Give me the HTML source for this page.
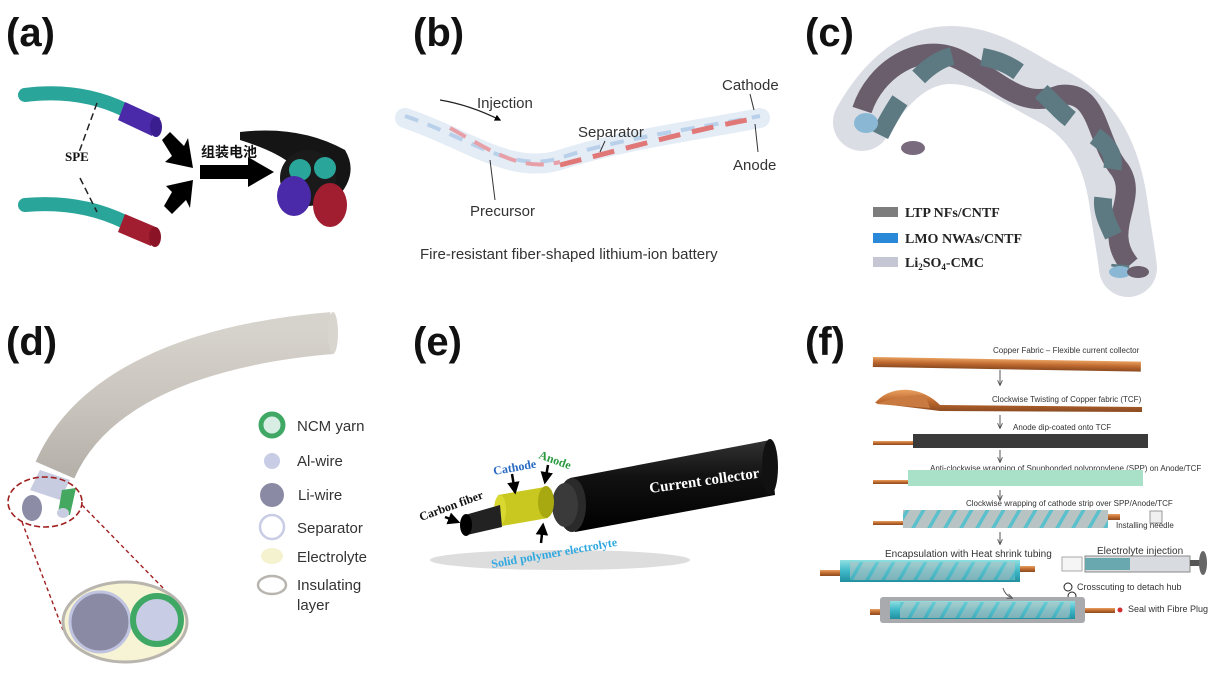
<!DOCTYPE html>
<html><head><meta charset="utf-8"><style>
html,body{margin:0;padding:0;background:#fff;}
svg{display:block;}
.lbl{font-family:"Liberation Sans",sans-serif;font-weight:bold;font-size:40px;fill:#111;}
.s{font-family:"Liberation Sans",sans-serif;fill:#333;}
.sr{font-family:"Liberation Serif",serif;font-weight:bold;}
</style></head><body>
<svg width="1212" height="689" viewBox="0 0 1212 689" xmlns="http://www.w3.org/2000/svg">
<defs>
<linearGradient id="gt" x1="0" y1="0" x2="0" y2="1"><stop offset="0" stop-color="#e8e5e0"/><stop offset=".5" stop-color="#cfcac3"/><stop offset="1" stop-color="#a9a49d"/></linearGradient>
<linearGradient id="blk" x1="0" y1="0" x2="0" y2="1"><stop offset="0" stop-color="#333"/><stop offset=".4" stop-color="#111"/><stop offset="1" stop-color="#000"/></linearGradient>
<linearGradient id="cu" x1="0" y1="0" x2="0" y2="1"><stop offset="0" stop-color="#e8a060"/><stop offset=".5" stop-color="#c06a30"/><stop offset="1" stop-color="#8a4a20"/></linearGradient>
<linearGradient id="cy" x1="0" y1="0" x2="0" y2="1"><stop offset="0" stop-color="#8fe0e0"/><stop offset=".5" stop-color="#3fb8c8"/><stop offset="1" stop-color="#2090a0"/></linearGradient>
<pattern id="sp" width="16" height="40" patternUnits="userSpaceOnUse" patternTransform="skewX(-30)"><rect width="16" height="40" fill="#b8c4c4"/><rect width="4" height="40" fill="#5ac0cc"/></pattern>
<marker id="ah" viewBox="0 0 10 10" refX="8" refY="5" markerWidth="5" markerHeight="5" orient="auto"><path d="M0,0L10,5L0,10z" fill="#000"/></marker>
<marker id="ga" viewBox="0 0 10 10" refX="8" refY="5" markerWidth="6" markerHeight="6" orient="auto"><path d="M0,1L9,5L0,9" fill="none" stroke="#555" stroke-width="1.5"/></marker>
</defs>

<!-- (a) -->
<text class="lbl" x="6" y="46">(a)</text>
<path d="M25,95 Q80,88 125,110" stroke="#2aa59a" stroke-width="14" fill="none" stroke-linecap="round"/>
<path d="M125,102 L160,118 L152,136 L118,120 Z" fill="#4a2aa8"/>
<ellipse cx="156" cy="127" rx="6" ry="10" fill="#3a1e90"/>
<path d="M25,205 Q80,200 125,222" stroke="#2aa59a" stroke-width="14" fill="none" stroke-linecap="round"/>
<path d="M125,214 L158,228 L151,246 L118,232 Z" fill="#a01e30"/>
<ellipse cx="155" cy="237" rx="6" ry="10" fill="#8a1426"/>
<path d="M97,103 L78,155 M80,178 L97,212" stroke="#222" stroke-width="1.5" stroke-dasharray="7,4"/>
<text x="65" y="161" class="sr" font-size="13" fill="#111">SPE</text>
<polygon points="162,140 170,132 184,146 188,138 193,168 165,162 172,156" fill="#000"/>
<polygon points="164,206 172,214 186,200 190,208 193,180 166,186 172,192" fill="#000"/>
<polygon points="200,165 248,165 248,157 274,172 248,187 248,179 200,179" fill="#000"/>
<text x="201" y="157" font-family="'Liberation Sans','Noto Sans CJK SC',sans-serif" font-size="14" font-weight="bold" fill="#111">组装电池</text>
<path d="M240,132 Q300,125 345,150 Q360,175 335,200 L300,200 Q320,165 240,140 Z" fill="#151515"/>
<circle cx="308" cy="178" r="28" fill="#1a1a1a"/>
<circle cx="300" cy="170" r="11" fill="#2aa59a"/><circle cx="325" cy="168" r="11" fill="#2aa59a"/>
<ellipse cx="294" cy="196" rx="17" ry="20" fill="#4a2aa8"/>
<ellipse cx="330" cy="205" rx="17" ry="22" fill="#a01e30"/>

<!-- (b) -->
<text class="lbl" x="413" y="46">(b)</text>
<path d="M405,118 C470,140 510,175 560,160 C620,140 700,130 760,118" stroke="#e4ecf6" stroke-width="20" fill="none" stroke-linecap="round"/>
<path d="M405,116 C470,138 510,173 560,158 C620,138 700,128 760,116" stroke="#b8d0ea" stroke-width="4" fill="none" stroke-dasharray="14,10"/>
<path d="M560,165 C620,150 700,128 758,118" stroke="#e07878" stroke-width="5" fill="none" stroke-dasharray="22,12"/>
<path d="M450,128 C490,150 520,172 560,162" stroke="#e8a0a8" stroke-width="4" fill="none" stroke-dasharray="18,10"/>
<path d="M440,100 Q470,105 500,120" stroke="#222" stroke-width="1.3" fill="none" marker-end="url(#ah)"/>
<text class="s" x="477" y="108" font-size="15">Injection</text>
<text class="s" x="578" y="137" font-size="15">Separator</text>
<line x1="605" y1="141" x2="600" y2="152" stroke="#333"/>
<text class="s" x="722" y="90" font-size="15">Cathode</text>
<line x1="750" y1="94" x2="754" y2="110" stroke="#333"/>
<text class="s" x="733" y="170" font-size="15">Anode</text>
<line x1="755" y1="124" x2="758" y2="152" stroke="#333"/>
<text class="s" x="470" y="216" font-size="15">Precursor</text>
<line x1="495" y1="200" x2="490" y2="160" stroke="#333"/>
<text class="s" x="420" y="259" font-size="15">Fire-resistant fiber-shaped lithium-ion battery</text>

<!-- (c) -->
<text class="lbl" x="805" y="46">(c)</text>
<path d="M862,122 C880,90 910,55 950,55 C990,55 1020,80 1050,95 C1090,115 1110,150 1118,200 C1122,230 1126,250 1128,268" stroke="#dadde4" stroke-width="58" fill="none" stroke-linecap="round"/>
<path d="M862,110 C875,70 920,40 960,60 C1000,80 1020,110 1060,95 C1100,90 1095,140 1120,170 C1140,200 1100,230 1130,265" stroke="#6a5e6c" stroke-width="20" fill="none"/>
<path d="M880,135 C900,95 930,50 970,55 C1010,60 1020,70 1060,110 C1090,140 1130,140 1105,190 C1095,220 1125,240 1120,268" stroke="#5d7a82" stroke-width="18" fill="none" stroke-dasharray="40,30"/>
<ellipse cx="866" cy="123" rx="12" ry="10" fill="#8ab8d4"/>
<ellipse cx="913" cy="148" rx="12" ry="7" fill="#7a6a7e"/>
<ellipse cx="1120" cy="272" rx="11" ry="6" fill="#8ab8d4"/>
<ellipse cx="1138" cy="272" rx="11" ry="6" fill="#6a5e6c"/>
<rect x="873" y="207" width="25" height="10" fill="#7d7d7d"/>
<rect x="873" y="233" width="25" height="10" fill="#2a88d8"/>
<rect x="873" y="257" width="25" height="10" fill="#c4c6d4"/>
<text class="sr" x="905" y="217" font-size="14" fill="#222">LTP NFs/CNTF</text>
<text class="sr" x="905" y="243" font-size="14" fill="#222">LMO NWAs/CNTF</text>
<text class="sr" x="905" y="267" font-size="14" fill="#222">Li<tspan font-size="9" dy="3">2</tspan><tspan dy="-3">SO</tspan><tspan font-size="9" dy="3">4</tspan><tspan dy="-3">-CMC</tspan></text>

<!-- (d) -->
<text class="lbl" x="6" y="355">(d)</text>
<path d="M55,470 C90,390 190,345 332,333" stroke="url(#gt)" stroke-width="42" fill="none"/>
<path d="M55,470 C90,390 190,345 332,333" stroke="#c4bfb8" stroke-width="42" fill="none" opacity=".5"/>
<ellipse cx="333" cy="333" rx="5" ry="21" fill="#d8d4ce"/>
<path d="M40,470 L70,480 L60,500 L30,490Z" fill="#c8cce0"/>
<ellipse cx="32" cy="508" rx="10" ry="13" fill="#8c8ca6"/>
<path d="M62,490 L76,488 L70,515 L58,513Z" fill="#44a860"/>
<ellipse cx="63" cy="513" rx="6" ry="5" fill="#c8cce0"/>
<ellipse cx="45" cy="502" rx="37" ry="25" fill="none" stroke="#a02020" stroke-width="1.6" stroke-dasharray="6,3"/>
<line x1="22" y1="522" x2="63" y2="630" stroke="#a02020" stroke-width="1.4" stroke-dasharray="4,3"/>
<line x1="82" y1="505" x2="165" y2="590" stroke="#a02020" stroke-width="1.4" stroke-dasharray="4,3"/>
<ellipse cx="125" cy="622" rx="62" ry="40" fill="#f7f3d5" stroke="#b8b4ae" stroke-width="3"/>
<circle cx="100" cy="622" r="30" fill="#8a8aa4" stroke="#c0c4e0" stroke-width="3"/>
<circle cx="157" cy="620" r="24" fill="#c8cce4" stroke="#3fa864" stroke-width="6"/>
<circle cx="272" cy="425" r="11" fill="#d8eee4" stroke="#3fa864" stroke-width="5"/>
<circle cx="272" cy="461" r="8" fill="#c8cce4"/>
<circle cx="272" cy="495" r="12" fill="#8a8aa4"/>
<circle cx="272" cy="527" r="12" fill="#fff" stroke="#c8cce4" stroke-width="2.5"/>
<ellipse cx="272" cy="556" rx="11" ry="8" fill="#f5f2d0"/>
<ellipse cx="272" cy="585" rx="14" ry="9" fill="#fff" stroke="#b8b4ae" stroke-width="2.5"/>
<g class="s" font-size="15" fill="#444">
<text x="297" y="431">NCM yarn</text><text x="297" y="466">Al-wire</text><text x="298" y="500">Li-wire</text>
<text x="297" y="533">Separator</text><text x="297" y="562">Electrolyte</text><text x="297" y="590">Insulating</text><text x="297" y="610">layer</text></g>

<!-- (e) -->
<text class="lbl" x="413" y="355">(e)</text>
<ellipse cx="560" cy="560" rx="130" ry="10" fill="#bbb" opacity=".5"/>
<path d="M570,478 L770,440 L775,495 L575,532 Z" fill="url(#blk)"/>
<ellipse cx="770" cy="467" rx="8" ry="28" fill="#111"/>
<ellipse cx="572" cy="505" rx="14" ry="27" fill="#2a2a2a"/>
<ellipse cx="565" cy="505" rx="13" ry="22" fill="#3a3a3a"/>
<path d="M498,495 L545,487 L548,518 L502,526Z" fill="#c8c820"/>
<ellipse cx="546" cy="502" rx="8" ry="16" fill="#a8a810"/>
<ellipse cx="500" cy="510" rx="6" ry="15" fill="#d8d830"/>
<path d="M465,515 L500,505 L502,527 L467,535Z" fill="#222"/>
<ellipse cx="466" cy="525" rx="6" ry="11" fill="#000"/>
<text x="650" y="493" class="sr" font-size="15" fill="#fff" transform="rotate(-8 650 493)">Current collector</text>
<text x="421" y="521" class="sr" font-size="12" fill="#111" transform="rotate(-20 421 521)">Carbon fiber</text>
<text x="494" y="475" class="sr" font-size="12" fill="#2a6ac0" transform="rotate(-10 494 475)">Cathode</text>
<text x="538" y="458" class="sr" font-size="12" fill="#2a9a40" transform="rotate(20 538 458)">Anode</text>
<text x="492" y="568" class="sr" font-size="12" fill="#30a8e0" transform="rotate(-10 492 568)">Solid polymer electrolyte</text>
<path d="M445,517 L458,522" stroke="#000" stroke-width="2.5" marker-end="url(#ah)"/>
<path d="M512,474 L515,492" stroke="#000" stroke-width="2.5" marker-end="url(#ah)"/>
<path d="M548,465 L545,482" stroke="#000" stroke-width="2.5" marker-end="url(#ah)"/>
<path d="M541,543 L543,525" stroke="#000" stroke-width="2.5" marker-end="url(#ah)"/>

<!-- (f) -->
<text class="lbl" x="805" y="355">(f)</text>
<g class="s" font-size="8" fill="#333">
<text x="993" y="353">Copper Fabric – Flexible current collector</text>
<text x="992" y="402">Clockwise Twisting of Copper fabric (TCF)</text>
<text x="1013" y="430">Anode dip-coated onto TCF</text>
<text x="930" y="471">Anti-clockwise wrapping of Spunbonded polypropylene (SPP) on Anode/TCF</text>
<text x="966" y="506">Clockwise wrapping of cathode strip over SPP/Anode/TCF</text>
<text x="1116" y="528">Installing needle</text>
<text x="885" y="557" font-size="10">Encapsulation with Heat shrink tubing</text>
<text x="1097" y="554" font-size="10">Electrolyte injection</text>
<text x="1077" y="590" font-size="9">Crosscuting to detach hub</text>
<text x="1128" y="612" font-size="9">Seal with Fibre Plug</text>
</g>
<rect x="873" y="357" width="268" height="10" fill="url(#cu)" transform="rotate(1 873 357)"/>
<path d="M875,403 C890,385 920,385 940,405 L1142,407 L1142,412 L940,411 Z" fill="url(#cu)"/>
<path d="M876,404 Q900,395 925,395 L930,408 Z" fill="#c87a40"/>
<rect x="873" y="441" width="40" height="4" fill="url(#cu)"/>
<rect x="913" y="434" width="235" height="14" fill="#3a3a3a"/>
<rect x="873" y="480" width="35" height="4" fill="url(#cu)"/>
<rect x="908" y="470" width="235" height="16" fill="#a8e0c8"/>
<rect x="873" y="521" width="30" height="4" fill="url(#cu)"/>
<rect x="903" y="510" width="205" height="18" fill="url(#sp)"/>
<rect x="1108" y="514" width="12" height="6" fill="url(#cu)"/>
<rect x="1150" y="511" width="12" height="12" fill="#f0f0f0" stroke="#999"/>
<rect x="820" y="570" width="20" height="6" fill="url(#cu)"/>
<rect x="840" y="560" width="180" height="22" fill="url(#cy)"/>
<rect x="850" y="562" width="165" height="18" fill="url(#sp)" opacity=".6"/>
<rect x="1020" y="566" width="15" height="6" fill="url(#cu)"/>
<rect x="1085" y="556" width="105" height="16" fill="#d8dce0" stroke="#888"/>
<rect x="1085" y="558" width="45" height="12" fill="#6aa8b0"/>
<rect x="1190" y="560" width="10" height="6" fill="#555"/>
<ellipse cx="1203" cy="563" rx="4" ry="12" fill="#666"/>
<rect x="1062" y="557" width="20" height="14" fill="#f5f5f5" stroke="#aaa"/>
<circle cx="1068" cy="587" r="4" fill="none" stroke="#222"/><circle cx="1072" cy="596" r="4" fill="none" stroke="#222"/>
<rect x="870" y="609" width="20" height="6" fill="url(#cu)"/>
<rect x="880" y="597" width="205" height="26" rx="3" fill="#a8aaae"/>
<rect x="890" y="601" width="185" height="18" fill="url(#cy)"/>
<rect x="900" y="602" width="170" height="16" fill="url(#sp)" opacity=".6"/>
<rect x="1085" y="608" width="30" height="5" fill="url(#cu)"/>
<circle cx="1120" cy="610" r="2.5" fill="#d03030"/>
<g stroke="#555" stroke-width="1" marker-end="url(#ga)">
<line x1="1000" y1="370" x2="1000" y2="385"/><line x1="1000" y1="415" x2="1000" y2="428"/>
<line x1="1000" y1="450" x2="1000" y2="462"/><line x1="1000" y1="490" x2="1000" y2="500"/>
<line x1="1000" y1="532" x2="1000" y2="544"/><path d="M1003,588 Q1005,595 1012,598" fill="none"/>
</g>
</svg>
</body></html>
